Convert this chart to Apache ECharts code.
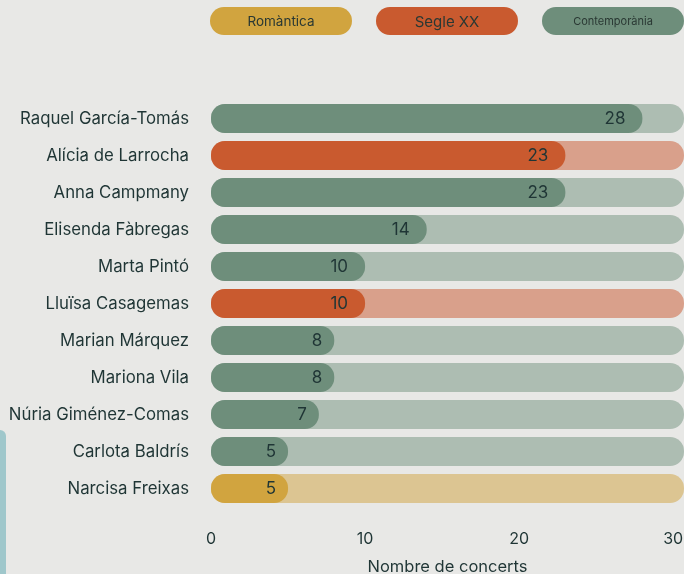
<!DOCTYPE html>
<html>
<head>
<meta charset="utf-8">
<style>
  html, body { margin: 0; padding: 0; background: #e8e8e6; }
  #main { width: 684px; height: 574px; }
</style>
<script src="https://cdn.jsdelivr.net/npm/echarts@6/dist/echarts.min.js"></script>
</head>
<body>
<div id="main"></div>
<script>
// dades
var compositores = ['Raquel García-Tomás', 'Alícia de Larrocha', 'Anna Campmany', 'Elisenda Fàbregas', 'Marta Pintó',
  'Lluïsa Casagemas', 'Marian Márquez', 'Mariona Vila', 'Núria Giménez-Comas', 'Carlota Baldrís', 'Narcisa Freixas'];
var concerts = [28, 23, 23, 14, 10, 10, 8, 8, 7, 5, 5];
var epoques = ['Contemporània', 'Segle XX', 'Contemporània', 'Contemporània', 'Contemporània',
  'Segle XX', 'Contemporània', 'Contemporània', 'Contemporània', 'Contemporània', 'Romàntica'];
var llegenda = ['Romàntica', 'Segle XX', 'Contemporània'];
var ticks = [0, 10, 20, 30];

var colors = { 'Romàntica': '#d1a43f', 'Segle XX': '#c95a2f', 'Contemporània': '#6e8e7b' };
var fons = { 'Romàntica': '#dcc592', 'Segle XX': '#d9a08b', 'Contemporània': '#adbdb2' };
var X_MAX = 30.7;
var textColor = '#1f3535';

var chart = echarts.init(document.getElementById('main'));

// llegenda en forma de pastilla
var legendGraphics = [];
var legendFont = { 'Romàntica': 13.5, 'Segle XX': 15, 'Contemporània': 11 };
llegenda.forEach(function (nom, i) {
  legendGraphics.push({
    type: 'group',
    left: 210 + i * 166,
    top: 7,
    children: [{
      type: 'rect',
      shape: { x: 0, y: 0, width: 142, height: 28, r: 14 },
      style: { fill: colors[nom] }
    }, {
      type: 'text',
      x: 71, y: 15,
      style: {
        text: nom, fill: '#2a3833', font: legendFont[nom] + 'px Inter',
        align: 'center', verticalAlign: 'middle'
      }
    }]
  });
});
// forma de la vora esquerra
legendGraphics.push({
  type: 'rect',
  left: -20, top: 430,
  shape: { x: 0, y: 0, width: 26, height: 170, r: 6 },
  style: { fill: '#9fc7cb' }
});

var option = {
  backgroundColor: '#e8e8e6',
  animation: false,
  graphic: legendGraphics,
  grid: { left: 211, right: 0, top: 100, bottom: 67, outerBoundsMode: 'none' },
  xAxis: {
    type: 'value',
    min: 0,
    max: X_MAX,
    splitLine: { show: false },
    axisLine: { show: false },
    axisTick: { show: false },
    axisLabel: {
      customValues: ticks,
      color: textColor,
      fontSize: 16,
      fontFamily: 'Inter',
      margin: 24
    },
    name: 'Nombre de concerts',
    nameLocation: 'middle',
    nameGap: 52,
    nameTextStyle: { color: textColor, fontSize: 16.5, fontFamily: 'Inter' }
  },
  yAxis: {
    type: 'category',
    inverse: true,
    data: compositores,
    axisLine: { show: false },
    axisTick: { show: false },
    axisLabel: {
      color: textColor,
      fontSize: 16.8,
      fontFamily: 'Inter',
      margin: 22
    }
  },
  series: [
    {
      // pista de fons
      type: 'bar',
      barWidth: 29,
      barGap: '-100%',
      silent: true,
      z: 1,
      data: compositores.map(function (c, i) {
        return { value: X_MAX, itemStyle: { color: fons[epoques[i]], borderRadius: 14 } };
      })
    },
    {
      type: 'bar',
      barWidth: 29,
      z: 2,
      data: concerts.map(function (v, i) {
        return {
          value: v,
          itemStyle: { color: colors[epoques[i]], borderRadius: 14 },
          label: { distance: v >= 10 ? 17 : 12 }
        };
      }),
      label: {
        show: true,
        position: 'insideRight',
        color: textColor,
        fontSize: 17,
        fontFamily: 'Inter'
      }
    }
  ]
};

chart.setOption(option);
</script>
</body>
</html>
